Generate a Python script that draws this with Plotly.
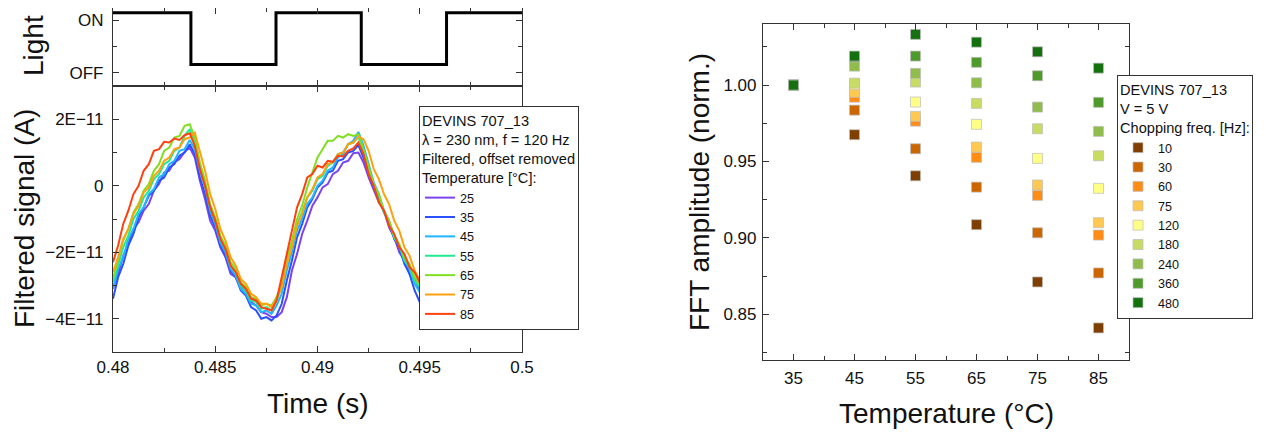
import numpy as np
import plotly.graph_objects as go

FONT = "Liberation Sans, Arial, sans-serif"

# ---------------- Left: light chopping + filtered signal ----------------
light_t = [0.48, 0.48381, 0.48797, 0.49214, 0.49631, 0.5]
light_state = [1.14, 0.16, 1.14, 0.16, 1.14, 1.14]

time_s = list(np.round(np.linspace(0.48, 0.495, 61), 6))

temps_labels = ["25", "35", "45", "55", "65", "75", "85"]
temps_colors = ["#7b44ee", "#2a50ff", "#22b4ff", "#22e890", "#80e020", "#ffa010", "#ff4010"]

# signal in units of 1E-11 A
sig_25 = [-3.1, -2.65, -2.1, -1.75, -1.3, -1.1, -0.75, -0.55, -0.15, 0.05, 0.4, 0.45, 0.72, 0.8, 1.02, 1.15,
          0.85, 0.15, -0.4, -1.05, -1.35, -1.85, -2.15, -2.65, -2.75, -3.05, -3.15, -3.5, -3.6, -3.8, -3.85, -3.95,
          -3.95, -3.8, -3.35, -2.55, -2.05, -1.45, -1.05, -0.6, -0.35, -0.05, 0.05, 0.35, 0.45, 0.7, 0.75, 0.98, 1.0,
          0.7, 0.25, -0.1, -0.5, -0.75, -1.25, -1.55, -2.0, -2.25, -2.65, -2.8, -3.15]
sig_35 = [-3.4, -2.75, -2.35, -1.8, -1.45, -0.95, -0.65, -0.3, -0.15, 0.15, 0.25, 0.55, 0.65, 0.9, 1.0, 1.25,
          0.95, 0.25, -0.25, -0.9, -1.25, -1.8, -2.1, -2.55, -2.75, -3.15, -3.3, -3.65, -3.75, -4.0, -3.95, -4.05,
          -3.9, -3.55, -2.85, -2.25, -1.55, -1.15, -0.65, -0.4, -0.05, 0.1, 0.4, 0.45, 0.75, 0.8, 1.0, 1.05, 1.22,
          0.85, 0.45, -0.05, -0.35, -0.8, -1.1, -1.6, -1.85, -2.35, -2.65, -3.15, -3.5]
sig_45 = [-3.1, -2.5, -2.15, -1.6, -1.3, -0.85, -0.65, -0.25, -0.1, 0.25, 0.35, 0.65, 0.75, 1.05, 1.1, 1.38,
          1.1, 0.45, -0.05, -0.75, -1.15, -1.7, -2.0, -2.5, -2.7, -3.1, -3.25, -3.55, -3.6, -3.8, -3.75, -3.85,
          -3.6, -3.25, -2.55, -2.0, -1.35, -1.0, -0.55, -0.35, 0.0, 0.15, 0.45, 0.55, 0.85, 0.95, 1.25, 1.35, 1.62,
          1.2, 0.65, 0.1, -0.25, -0.75, -1.05, -1.55, -1.8, -2.25, -2.5, -2.95, -3.2]
sig_55 = [-2.9, -2.4, -1.85, -1.5, -1.0, -0.75, -0.35, -0.15, 0.2, 0.35, 0.65, 0.75, 1.05, 1.15, 1.5, 1.7,
          1.3, 0.6, 0.05, -0.65, -1.05, -1.6, -1.9, -2.4, -2.6, -3.0, -3.15, -3.45, -3.5, -3.7, -3.65, -3.75,
          -3.45, -3.05, -2.35, -1.8, -1.15, -0.8, -0.35, -0.15, 0.2, 0.3, 0.6, 0.7, 0.95, 1.0, 1.25, 1.3, 1.47,
          1.05, 0.55, 0.0, -0.3, -0.8, -1.1, -1.55, -1.8, -2.25, -2.45, -2.85, -3.05]
sig_65 = [-2.8, -2.25, -1.65, -1.3, -0.8, -0.55, -0.15, 0.05, 0.45, 0.65, 1.05, 1.15, 1.45, 1.5, 1.8, 1.85,
          1.45, 0.7, 0.15, -0.55, -0.95, -1.5, -1.8, -2.3, -2.5, -2.9, -3.05, -3.35, -3.4, -3.6, -3.55, -3.6,
          -3.35, -2.95, -2.2, -1.65, -1.0, -0.6, -0.05, 0.4, 0.85, 1.1, 1.35, 1.35, 1.5, 1.45, 1.55, 1.5, 1.55,
          1.1, 0.6, 0.05, -0.25, -0.75, -1.05, -1.5, -1.75, -2.15, -2.35, -2.75, -2.95]
sig_75 = [-2.6, -2.15, -1.6, -1.3, -0.85, -0.6, -0.2, -0.05, 0.3, 0.45, 0.75, 0.85, 1.1, 1.15, 1.4, 1.45,
          1.6, 1.05, 0.45, -0.25, -0.7, -1.3, -1.65, -2.15, -2.4, -2.8, -2.95, -3.25, -3.35, -3.55, -3.55, -3.65,
          -3.4, -3.05, -2.35, -1.85, -1.2, -0.85, -0.35, -0.1, 0.25, 0.35, 0.65, 0.7, 0.95, 1.0, 1.25, 1.3, 1.48,
          1.4, 1.05, 0.5, 0.2, -0.25, -0.55, -1.05, -1.35, -1.85, -2.1, -2.55, -2.85]
sig_85 = [-2.3, -1.8, -1.15, -0.75, -0.25, 0.0, 0.45, 0.65, 1.05, 1.1, 1.32, 1.3, 1.42, 1.38, 1.52, 1.58,
          1.2, 0.5, 0.0, -0.65, -1.05, -1.6, -1.9, -2.4, -2.6, -2.95, -3.1, -3.4, -3.45, -3.65, -3.7, -3.75,
          -3.45, -2.75, -1.95, -1.35, -0.65, -0.25, 0.25, 0.35, 0.6, 0.55, 0.75, 0.72, 0.9, 0.88, 1.05, 1.12, 1.3,
          0.95, 0.35, 0.0, -0.5, -0.75, -1.2, -1.45, -1.85, -2.05, -2.45, -2.6, -2.9]
signals = [sig_25, sig_35, sig_45, sig_55, sig_65, sig_75, sig_85]

sig_tickvals = [-4, -2, 0, 2]
sig_ticktext = ["\u22124E\u221211", "\u22122E\u221211", "0", "2E\u221211"]

# ---------------- Right: FFT amplitude ----------------
temperature = [35, 45, 55, 65, 75, 85]
freq_labels = ["10", "30", "60", "75", "120", "180", "240", "360", "480"]
freq_colors = ["#7f3f00", "#cc6600", "#ff8c14", "#ffc850", "#ffff88",
               "#c8dc64", "#8fbc4a", "#4e9a2a", "#157010"]
amp_10 = [1.000, 0.9675, 0.9406, 0.9086, 0.8711, 0.8410]
amp_30 = [1.000, 0.9836, 0.9583, 0.9332, 0.9033, 0.8770]
amp_60 = [1.000, 0.9921, 0.9764, 0.9527, 0.9278, 0.9018]
amp_75 = [1.000, 0.9952, 0.9795, 0.9594, 0.9346, 0.9099]
amp_120 = [1.000, 1.0005, 0.9889, 0.9743, 0.9520, 0.9324]
amp_180 = [1.000, 1.0013, 1.0020, 0.9880, 0.9714, 0.9537]
amp_240 = [1.000, 1.0124, 1.0077, 1.0015, 0.9856, 0.9697]
amp_360 = [1.000, 1.0183, 1.0190, 1.0149, 1.0061, 0.9887]
amp_480 = [1.000, 1.0190, 1.0332, 1.0281, 1.0218, 1.0111]
amps = [amp_10, amp_30, amp_60, amp_75, amp_120, amp_180, amp_240, amp_360, amp_480]

fig = go.Figure()

fig.add_trace(go.Scatter(x=light_t, y=light_state, mode="lines", line=dict(color="black", width=3, shape="hv"),
                         xaxis="x2", yaxis="y2", showlegend=False, hoverinfo="skip"))

for lab, col, s in zip(temps_labels, temps_colors, signals):
    fig.add_trace(go.Scatter(x=time_s, y=s, mode="lines", name=lab, line=dict(color=col, width=2),
                             xaxis="x", yaxis="y", legend="legend"))

for lab, col, a in zip(freq_labels, freq_colors, amps):
    fig.add_trace(go.Scatter(x=temperature, y=a, mode="markers", name=lab,
                             marker=dict(symbol="square", size=10, color=col,
                                         line=dict(color="rgba(190,190,190,0.9)", width=0.8)),
                             xaxis="x3", yaxis="y3", legend="legend2"))

W, H = 1266, 432
OFF = 8  # page body margin of the html page
def fx(px): return (px - OFF) / W
def fy(py): return 1 - (py - OFF) / H

LC = "#333333"
def ax(**kw):
    d = dict(showline=True, linecolor=LC, linewidth=1.2, mirror="allticks", ticks="inside", ticklen=6,
             tickwidth=1.2, tickcolor=LC, showgrid=False, zeroline=False, automargin=False,
             tickfont=dict(family=FONT, size=17, color="#111"))
    d.update(kw)
    return d

minor_x = dict(ticks="inside", ticklen=3.5, tickwidth=1, tickcolor=LC, dtick=0.0025, tick0=0.48)

fig.update_layout(
    width=W, height=H, autosize=False, margin=dict(l=0, r=0, t=0, b=0, autoexpand=False),
    paper_bgcolor="white", plot_bgcolor="white",
    font=dict(family=FONT, color="#111"),
    xaxis=ax(domain=[fx(113), fx(522)], range=[0.48, 0.5], tick0=0.48, dtick=0.005, anchor="y",
             minor=minor_x, ticklabelstandoff=-1),
    yaxis=ax(domain=[fy(352), fy(86)], range=[-5, 3], tickmode="array", tickvals=sig_tickvals,
             ticktext=sig_ticktext, anchor="x", ticklabelstandoff=5,
             minor=dict(ticks="inside", ticklen=3.5, tickwidth=1, tickcolor=LC, tickmode="array",
                        tickvals=[-5, -3, -1, 1, 3])),
    xaxis2=ax(domain=[fx(113), fx(522)], range=[0.48, 0.5], tick0=0.48, dtick=0.005, anchor="y2",
              showticklabels=False, minor=minor_x, matches="x"),
    yaxis2=ax(domain=[fy(86), fy(8)], range=[-0.251, 1.232], tickmode="array", tickvals=[0, 1],
              ticktext=["OFF", "ON"], anchor="x2", ticklabelstandoff=5,
              minor=dict(ticks="inside", ticklen=3.5, tickwidth=1, tickcolor=LC, tickmode="array",
                         tickvals=[0.5])),
    xaxis3=ax(domain=[fx(763), fx(1129)], range=[30, 90], tick0=35, dtick=10, anchor="y3",
              ticklabelstandoff=2,
              minor=dict(ticks="inside", ticklen=3.5, tickwidth=1, tickcolor=LC, tick0=30, dtick=5)),
    yaxis3=ax(domain=[fy(360), fy(24)], range=[0.82, 1.04], tick0=0.85, dtick=0.05, tickformat=".2f",
              anchor="x3", ticklabelstandoff=2,
              minor=dict(ticks="inside", ticklen=3.5, tickwidth=1, tickcolor=LC, tick0=0.825, dtick=0.025)),
    legend=dict(x=fx(419), y=fy(106), xanchor="left", yanchor="top", bgcolor="white",
                bordercolor=LC, borderwidth=1, font=dict(family=FONT, size=12.6, color="#111"),
                title=dict(text="DEVINS 707_13<br>\u03bb = 230 nm, f = 120 Hz<br>Filtered, offset removed<br>"
                                "Temperature [\u00b0C]:", font=dict(family=FONT, size=14.6, color="#111")),
                tracegroupgap=0, itemwidth=30),
    legend2=dict(x=fx(1117), y=fy(75), xanchor="left", yanchor="top", bgcolor="white",
                 bordercolor=LC, borderwidth=1, font=dict(family=FONT, size=12.6, color="#111"),
                 title=dict(text="DEVINS 707_13<br>V = 5 V<br>Chopping freq. [Hz]:",
                            font=dict(family=FONT, size=14.6, color="#111")),
                 tracegroupgap=0, itemwidth=30),
)

ann_font = dict(family=FONT, size=28, color="#111")
annots = [
    dict(text="Light", x=fx(33), y=fy(46), textangle=-90),
    dict(text="Filtered signal (A)", x=fx(24), y=fy(219), textangle=-90),
    dict(text="Time (s)", x=fx(317.5), y=fy(403), textangle=0),
    dict(text="FFT amplitude (norm.)", x=fx(699), y=fy(192), textangle=-90),
    dict(text="Temperature (\u00b0C)", x=fx(946), y=fy(413), textangle=0),
]
for a in annots:
    fig.add_annotation(xref="paper", yref="paper", showarrow=False, xanchor="center", yanchor="middle",
                       font=ann_font, **a)

fig.write_html("out.html")
